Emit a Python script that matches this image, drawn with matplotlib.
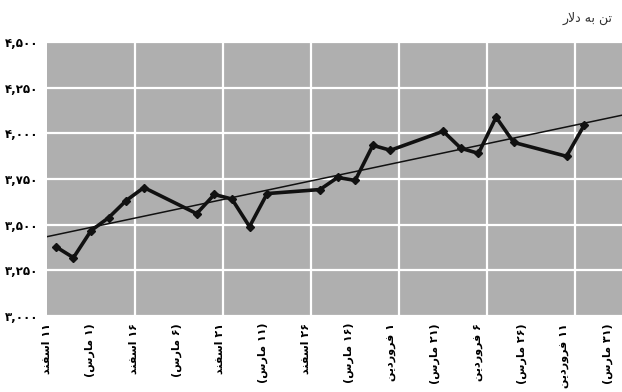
import matplotlib
matplotlib.use("Agg")
import matplotlib.pyplot as plt

# days since 11 Esfand, and price (dollars per ton)
days = [1, 3, 5, 7, 9, 11, 17, 19, 21, 23, 25, 31, 33, 35, 37, 39,
        45, 47, 49, 51, 53, 59, 61]
prices = [3379, 3319, 3467, 3538, 3632, 3703, 3560, 3665, 3640, 3489, 3670,
          3692, 3758, 3742, 3934, 3907, 4011, 3918, 3890, 4088, 3950, 3874, 4044]

# trend line end points
trend_days = [0, 65.3]
trend_prices = [3434, 4099]

# Persian text, pre-shaped (presentation forms, visual order)
ESFAND = "\uFEAA\uFEE8\uFED4\uFEB3\uFE8D"
MARS = "\uFEB1\uFEAD\uFE8E\uFEE3"
FARVARDIN = "\uFEE6\uFEF3\uFEA9\uFEAD\uFEED\uFEAE\uFED3"
UNIT = "\uFEAD\uFEFB\uFEA9 \uFEEA\uFE91 \uFEE6\uFE97"

x_labels = [
    ESFAND + " ۱۱", "(" + MARS + " ۱)",
    ESFAND + " ۱۶", "(" + MARS + " ۶)",
    ESFAND + " ۲۱", "(" + MARS + " ۱۱)",
    ESFAND + " ۲۶", "(" + MARS + " ۱۶)",
    FARVARDIN + " ۱", "(" + MARS + " ۲۱)",
    FARVARDIN + " ۶", "(" + MARS + " ۲۶)",
    FARVARDIN + " ۱۱", "(" + MARS + " ۳۱)",
]
y_ticks = [3000, 3250, 3500, 3750, 4000, 4250, 4500]
y_labels = ["۳,۰۰۰", "۳,۲۵۰", "۳,۵۰۰", "۳,۷۵۰", "۴,۰۰۰", "۴,۲۵۰", "۴,۵۰۰"]

plt.rcParams["font.family"] = ["DejaVu Sans"]

fig = plt.figure(figsize=(6.22, 3.92), dpi=100)
ax = fig.add_axes([0.0756, 0.194, 0.9244, 0.699])
ax.set_facecolor("#afafaf")
for s in ax.spines.values():
    s.set_visible(False)

ax.set_xlim(0, 65.3)
ax.set_ylim(3000, 4500)

label_pos = [i * 4.9 for i in range(len(x_labels))]
ax.set_xticks(label_pos)
ax.set_xticklabels(x_labels, rotation=90, ha="center", va="top",
                   fontsize=8, fontweight="bold")
ax.set_xticks([10, 20, 30, 40, 50, 60], minor=True)
ax.set_yticks(y_ticks)
ax.set_yticklabels(y_labels, fontsize=8.5, fontweight="bold")
ax.tick_params(axis="both", which="both", length=0)
ax.tick_params(axis="x", pad=5)
ax.tick_params(axis="y", pad=6)

ax.grid(True, axis="y", which="major", color="white", linewidth=1.6)
ax.grid(True, axis="x", which="minor", color="white", linewidth=1.6)
ax.set_axisbelow(True)

ax.plot(trend_days, trend_prices, color="#111111", linewidth=1.1, zorder=3)
ax.plot(days, prices, color="#111111", linewidth=2.6, marker="D",
        markersize=4.5, zorder=4)

fig.text(0.985, 0.935, UNIT, ha="right", va="bottom", fontsize=9, color="#333333")

fig.savefig("out.png", dpi=100)
